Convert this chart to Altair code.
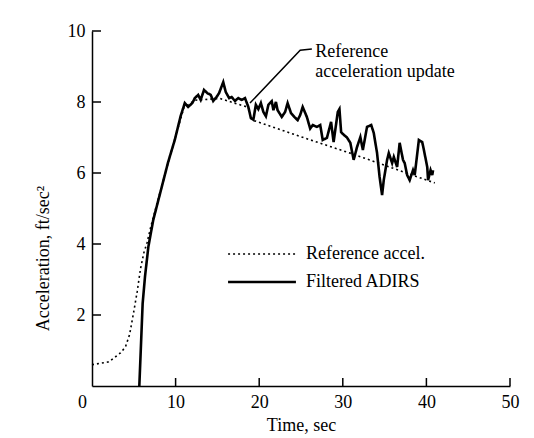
import altair as alt
import pandas as pd

# Reference acceleration (dotted)
ref_t = [0.0, 2.0, 3.4, 4.0, 4.5, 5.0, 5.4, 5.8, 6.2, 6.6, 7.1, 9.0, 11.0, 12.3,
         15.3, 17.3, 18.7, 19.1, 25.0, 31.0, 41.0]
ref_a = [0.6, 0.68, 0.93, 1.1, 1.45, 2.1, 2.65, 3.3, 3.75, 4.05, 4.55, 6.2, 7.85, 8.05,
         8.1, 7.95, 7.85, 7.5, 7.02, 6.55, 5.72]

# Filtered ADIRS (solid)
adirs_t = [5.66, 5.82, 6.06, 6.34, 6.74, 7.33, 9.1, 9.9, 10.6, 11.1, 11.5, 12.0,
           12.3, 12.7, 13.0, 13.4, 13.8, 14.2, 14.5, 14.9, 15.2, 15.7, 16.0, 16.4,
           16.7, 17.1, 17.5, 17.9, 18.3, 18.7, 19.0, 19.3, 19.6, 19.9, 20.2, 20.5,
           20.8, 21.1, 21.5, 21.7, 22.0, 22.2, 22.7, 23.1, 23.4, 23.8, 24.2, 24.6,
           24.9, 25.2, 25.7, 26.1, 26.4, 26.9, 27.3, 27.6, 28.1, 28.6, 28.9, 29.4,
           29.6, 29.8, 30.0, 30.5, 30.9, 31.3, 31.7, 32.1, 32.4, 32.9, 33.4, 33.7,
           34.1, 34.4, 34.7, 34.9, 35.3, 35.5, 35.9, 36.1, 36.5, 36.8, 37.2, 37.4,
           37.7, 38.0, 38.4, 38.6, 39.1, 39.5, 39.7, 40.1, 40.2, 40.5, 40.7, 40.8]
adirs_a = [0.0, 0.93, 2.33, 3.08, 3.92, 4.68, 6.3, 6.93, 7.6, 7.97, 7.86, 7.97,
           8.11, 8.2, 8.06, 8.34, 8.25, 8.2, 8.03, 8.14, 8.25, 8.56, 8.28, 8.11,
           8.14, 8.03, 8.11, 8.06, 8.11, 7.86, 7.55, 7.5, 7.92, 7.8, 7.97, 7.72,
           7.6, 7.92, 8.02, 7.77, 8.0, 7.77, 7.58, 7.72, 7.97, 7.69, 7.58, 7.49,
           7.63, 7.86, 7.58, 7.25, 7.35, 7.3, 7.35, 6.93, 6.99, 7.44, 6.87, 7.72,
           7.8, 7.15, 7.1, 7.0, 6.85, 6.37, 6.73, 7.01, 6.65, 7.3, 7.35, 7.13,
           6.56, 5.89, 5.38, 5.8, 6.37, 6.56, 6.28, 6.45, 6.17, 6.85, 6.37, 6.28,
           5.94, 5.8, 6.08, 5.94, 6.93, 6.87, 6.65, 6.17, 5.8, 6.08, 5.94, 6.08]

series_names = ["Reference accel.", "Filtered ADIRS"]

x_ticks = [10, 20, 30, 40, 50]
y_ticks = [2, 4, 6, 8, 10]

# annotation leader line and text
leader_t = [18.9, 24.9, 26.3]
leader_a = [7.97, 9.46, 9.49]
note_t = [26.7]
note_a = [9.27]
note_text = ["Reference\nacceleration update"]

W, H = 418, 355
FONT = "Liberation Serif"

lines_df = pd.concat([
    pd.DataFrame({"t": ref_t, "a": ref_a, "series": series_names[0], "o": range(len(ref_t))}),
    pd.DataFrame({"t": adirs_t, "a": adirs_a, "series": series_names[1], "o": range(len(adirs_t))}),
])

x_scale = alt.Scale(domain=[0, 50], nice=False, zero=False)
y_scale = alt.Scale(domain=[0, 10], nice=False, zero=False)

x_axis = alt.Axis(
    values=[0, 10, 20, 30, 40, 50], ticks=False, grid=False, labelPadding=7,
    labelFlush=False,
    title="Time, sec", titleBaseline="alphabetic", titleY=44,
    labelOffset={"condition": {"test": "datum.value == 0", "value": -10}, "value": 0},
)
y_axis = alt.Axis(
    values=y_ticks, ticks=False, grid=False, labelPadding=7, labelFlush=False,
    title="Acceleration, ft/sec²", titleX=-49, titleY=227,
    titleAlign="center", titleBaseline="middle", titleAngle=-90,
)

# long horizontal legend swatch: unit path scaled by sqrt(size)/2
legend_line = "M-8,0H8"

lines = alt.Chart(lines_df).mark_line(color="black").encode(
    x=alt.X("t:Q", scale=x_scale, axis=x_axis),
    y=alt.Y("a:Q", scale=y_scale, axis=y_axis),
    order="o:Q",
    strokeDash=alt.StrokeDash(
        "series:N",
        scale=alt.Scale(domain=series_names, range=[[2, 3], [1, 0]]),
        legend=alt.Legend(
            title=None, orient="none", legendX=161, legendY=214,
            symbolType=legend_line, symbolSize=72, symbolStrokeColor="black",
            symbolStrokeWidth=1.8, labelFont=FONT, labelFontSize=18,
            labelColor="black", labelOffset=35, rowPadding=10,
        ),
    ),
    strokeWidth=alt.StrokeWidth(
        "series:N", scale=alt.Scale(domain=series_names, range=[1.6, 2.6]), legend=None
    ),
)

x_tick_marks = alt.Chart(pd.DataFrame({"t": x_ticks})).mark_rule(
    color="black", strokeWidth=1.5
).encode(x="t:Q", y=alt.value(H), y2=alt.value(H - 8))

y_tick_marks = alt.Chart(pd.DataFrame({"a": y_ticks})).mark_rule(
    color="black", strokeWidth=1.5
).encode(y="a:Q", x=alt.value(0), x2=alt.value(9))

leader = alt.Chart(pd.DataFrame({"t": leader_t, "a": leader_a, "o": [0, 1, 2]})).mark_line(
    color="black", strokeWidth=1.5
).encode(x="t:Q", y="a:Q", order="o:Q")

note = alt.Chart(pd.DataFrame({"t": note_t, "a": note_a, "txt": note_text})).mark_text(
    align="left", baseline="alphabetic", font=FONT, fontSize=18, lineBreak="\n",
    lineHeight=20, color="black",
).encode(x="t:Q", y="a:Q", text="txt:N")

chart = (
    alt.layer(lines, x_tick_marks, y_tick_marks, leader, note)
    .properties(
        width=W, height=H,
        autosize=alt.AutoSizeParams(type="none"),
        padding={"left": 84, "top": 23, "right": 16, "bottom": 50},
    )
    .configure_view(stroke=None)
    .configure_axis(
        domainColor="black", domainWidth=1.5, labelFont=FONT, labelFontSize=18,
        labelColor="black", titleFont=FONT, titleFontSize=18, titleColor="black",
        titleFontWeight="normal",
    )
)

chart.save("out.html", embed_options={"renderer": "svg", "actions": False})
